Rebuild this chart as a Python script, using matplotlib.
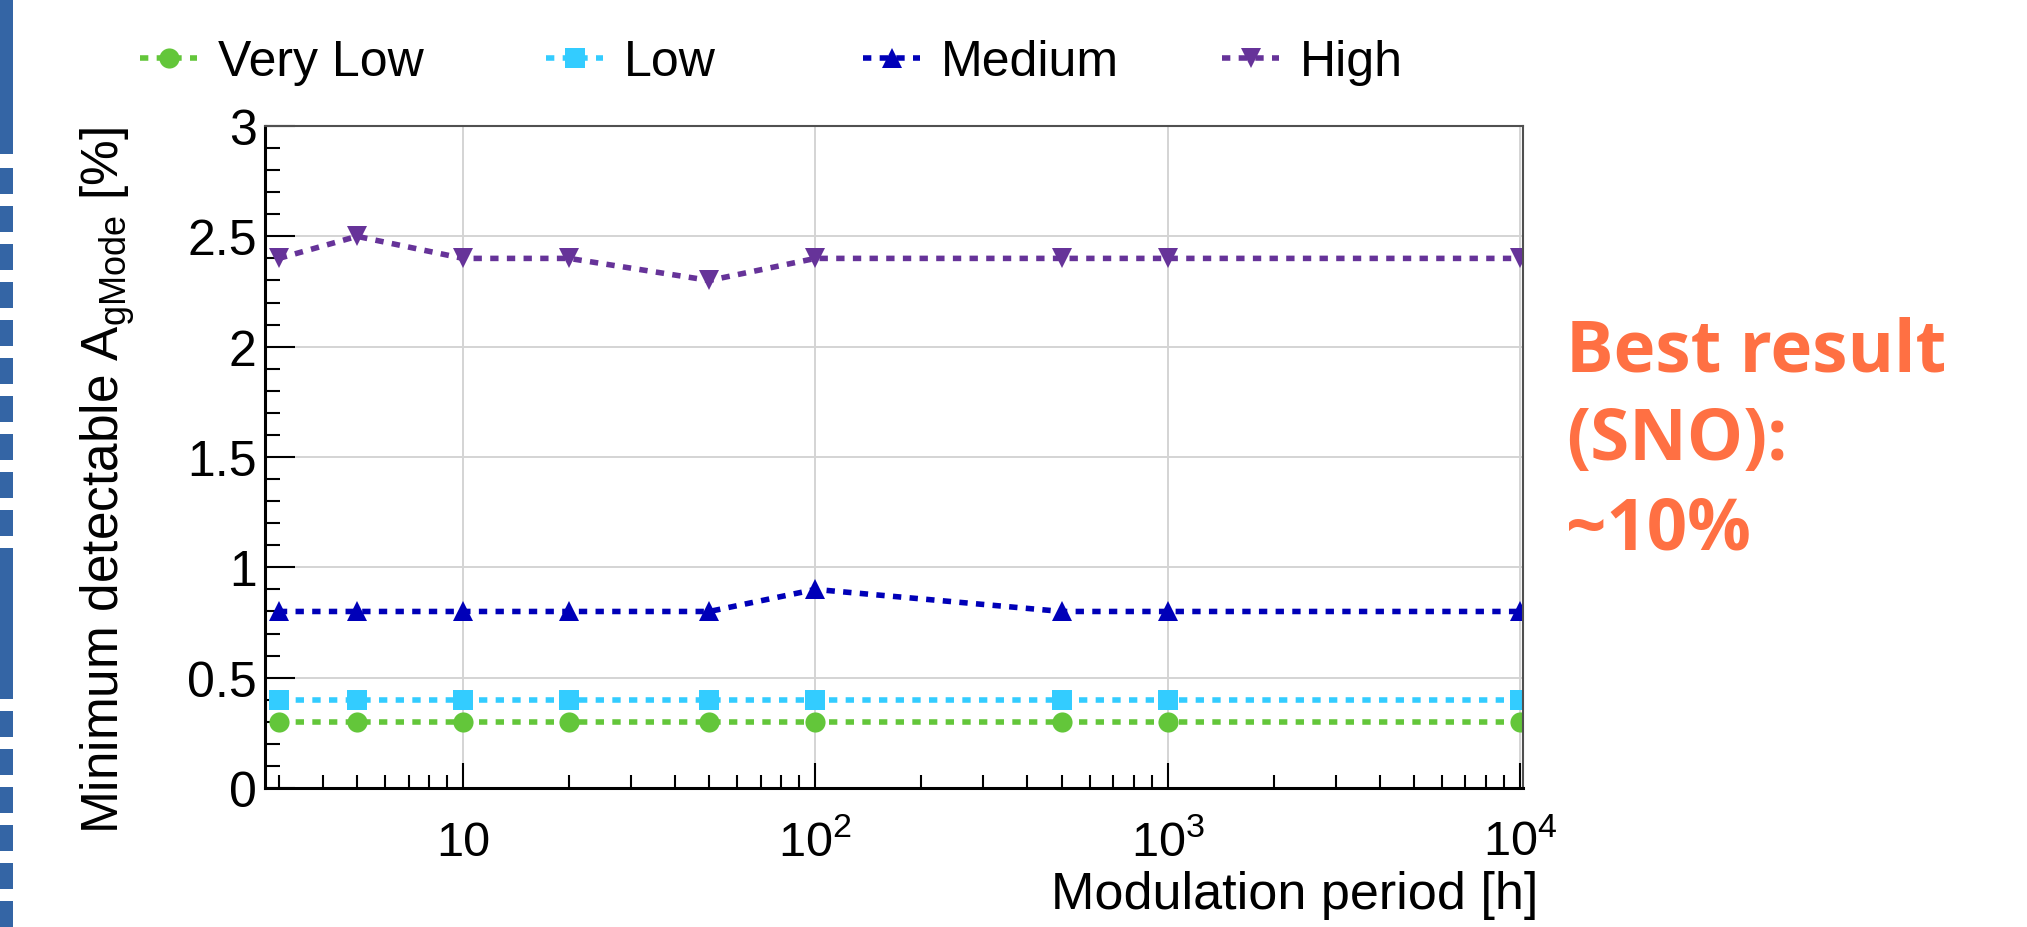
import numpy as np
import matplotlib
matplotlib.use('Agg')
import matplotlib.pyplot as plt
from matplotlib.ticker import LogLocator, MultipleLocator, FuncFormatter, NullFormatter

plt.rcParams['font.family'] = ['Liberation Sans', 'DejaVu Sans']
plt.rcParams['mathtext.fontset'] = 'custom'
plt.rcParams['mathtext.rm'] = 'Liberation Sans'
plt.rcParams['mathtext.it'] = 'Liberation Sans:italic'
plt.rcParams['mathtext.default'] = 'regular'

# data
periods = [3, 5, 10, 20, 50, 100, 500, 1000, 10000]
very_low = [0.3, 0.3, 0.3, 0.3, 0.3, 0.3, 0.3, 0.3, 0.3]
low = [0.4, 0.4, 0.4, 0.4, 0.4, 0.4, 0.4, 0.4, 0.4]
medium = [0.8, 0.8, 0.8, 0.8, 0.8, 0.9, 0.8, 0.8, 0.8]
high = [2.4, 2.5, 2.4, 2.4, 2.3, 2.4, 2.4, 2.4, 2.4]

names = ['Very Low', 'Low', 'Medium', 'High']
colors = ['#63c63a', '#33ccff', '#0000b8', '#663399']
markers = ['o', 's', '^', 'v']
legend_x = [140, 546, 863, 1222]  # where each legend entry starts (px)

note_lines = ['Best result', '(SNO):', '~10%']

# left border stripe (start, length) in pixels from the top
stripe = [(0, 155), (169, 26), (207, 26), (245, 26), (283, 26), (321, 26),
          (359, 26), (397, 26), (435, 26), (473, 26), (511, 26), (549, 151),
          (712, 26), (750, 26), (788, 26), (826, 26), (864, 26), (902, 26)]

W, H = 2027, 928
fig = plt.figure(figsize=(W / 100, H / 100), dpi=100)

# blue dashed border on the left
sax = fig.add_axes([0, 0, 13 / W, 1])
for start, length in stripe:
    sax.bar(0.5, length, bottom=start, width=1.0, color='#3465a5')
sax.set_xlim(0, 1)
sax.set_ylim(H, 0)
sax.axis('off')

ax = fig.add_axes([265 / W, 1 - 789 / H, (1523 - 265) / W, (789 - 127) / H])

lines = []
for name, vals, col, mk in zip(names, [very_low, low, medium, high], colors, markers):
    ln, = ax.plot(periods, vals, color=col, marker=mk, ms=14.5, mew=0, lw=4,
                  linestyle=(0, (1.5, 1.5)), dash_capstyle='butt', label=name)
    lines.append(ln)

ax.set_xscale('log')
ax.set_xlim(2.74, 10200)
ax.set_ylim(0, 3)
ax.xaxis.set_major_locator(LogLocator(base=10))
ax.xaxis.set_minor_locator(LogLocator(base=10, subs=range(2, 10)))
ax.xaxis.set_minor_formatter(NullFormatter())
ax.yaxis.set_major_locator(MultipleLocator(0.5))
ax.yaxis.set_minor_locator(MultipleLocator(0.1))


def xfmt(v, pos):
    e = int(round(np.log10(v)))
    return '10' if e == 1 else '$10^{%d}$' % e


ax.xaxis.set_major_formatter(FuncFormatter(xfmt))
ax.yaxis.set_major_formatter(FuncFormatter(lambda v, p: '%g' % v))

ax.tick_params(which='both', direction='in', top=False, right=False, width=1.5)
ax.tick_params(axis='y', which='major', length=21.5)
ax.tick_params(axis='y', which='minor', length=10.8)
ax.tick_params(axis='x', which='major', length=18)
ax.tick_params(axis='x', which='minor', length=9.4)
ax.tick_params(axis='x', labelsize=35, pad=48)
ax.tick_params(axis='y', labelsize=36, pad=6)
for lab in ax.get_xticklabels():
    lab.set_va('baseline')

ax.grid(which='major', color='#d4d4d4', lw=1.4)
ax.set_axisbelow(True)
for s in ['left', 'bottom']:
    ax.spines[s].set_linewidth(2.2)
for s in ['top', 'right']:
    ax.spines[s].set_linewidth(1.5)
    ax.spines[s].set_color('#505050')

ax.set_ylabel('Minimum detectable A$_{gMode}$ [%]', fontsize=37, loc='top')
ax.yaxis.set_label_coords(-0.102, 1.0)
ax.set_xlabel('Modulation period [h]', fontsize=37.5, loc='right')
ax.xaxis.set_label_coords(1.012, -0.124)

# one legend per entry, placed where the original puts them
for ln, name, x0 in zip(lines, names, legend_x):
    fig.legend([ln], [name], loc='center left', bbox_to_anchor=(x0 / W, 1 - 63 / H),
               frameon=False, fontsize=36, handlelength=1.14, handletextpad=0.42,
               borderpad=0, borderaxespad=0)

for txt, base in zip(note_lines, [372, 460, 550]):
    fig.text(1566 / W, 1 - base / H, txt, fontsize=51, fontweight='bold',
             family='Open Sans', color='#ff7043', va='baseline', ha='left')

fig.savefig('out.png', dpi=100)
